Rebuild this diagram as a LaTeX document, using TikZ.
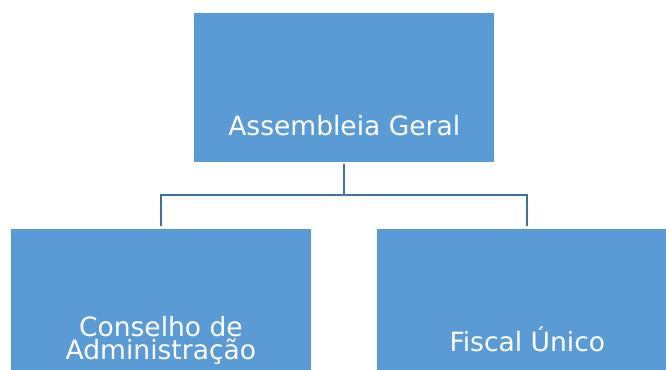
\documentclass[tikz,border=0pt]{standalone}
\usepackage{fontspec}
\setmainfont{DejaVu Sans}
\definecolor{boxblue}{HTML}{5B9BD5}
\definecolor{linkblue}{HTML}{41719C}
\begin{document}
\begin{tikzpicture}[x=0.75pt,y=-0.75pt,
  orgbox/.style={fill=boxblue,draw=none,minimum width=225pt,minimum height=111.5pt,inner sep=0pt,outer sep=0pt},
  orgtext/.style={text=white,font=\fontsize{19.9pt}{17.2pt}\selectfont,anchor=base,align=center,inner sep=0pt},
  link/.style={draw=linkblue,line width=1.7pt}]
\useasboundingbox (0,0) rectangle (666,370);
\clip (0,0) rectangle (666,370);
\node[orgbox] (top) at (344.3,87.7) {};
\node[orgbox] (cons) at (160.9,302.9) {};
\node[orgbox] (fisc) at (527.3,302.9) {};
\node[orgtext] (ttop) at (344.3,136) {Assembleia Geral};
\node[orgtext] (tcons) at (160.9,359.5) {Conselho de\\Administração};
\node[orgtext] (tfisc) at (527.3,351) {Fiscal Único};
\coordinate (bus) at (344.3,195);
\draw[link] ([yshift=-1.5pt]top.south) -- (bus) -| ([yshift=2.3pt]cons.north);
\draw[link] (bus) -| ([yshift=2.3pt]fisc.north);
\end{tikzpicture}
\end{document}
